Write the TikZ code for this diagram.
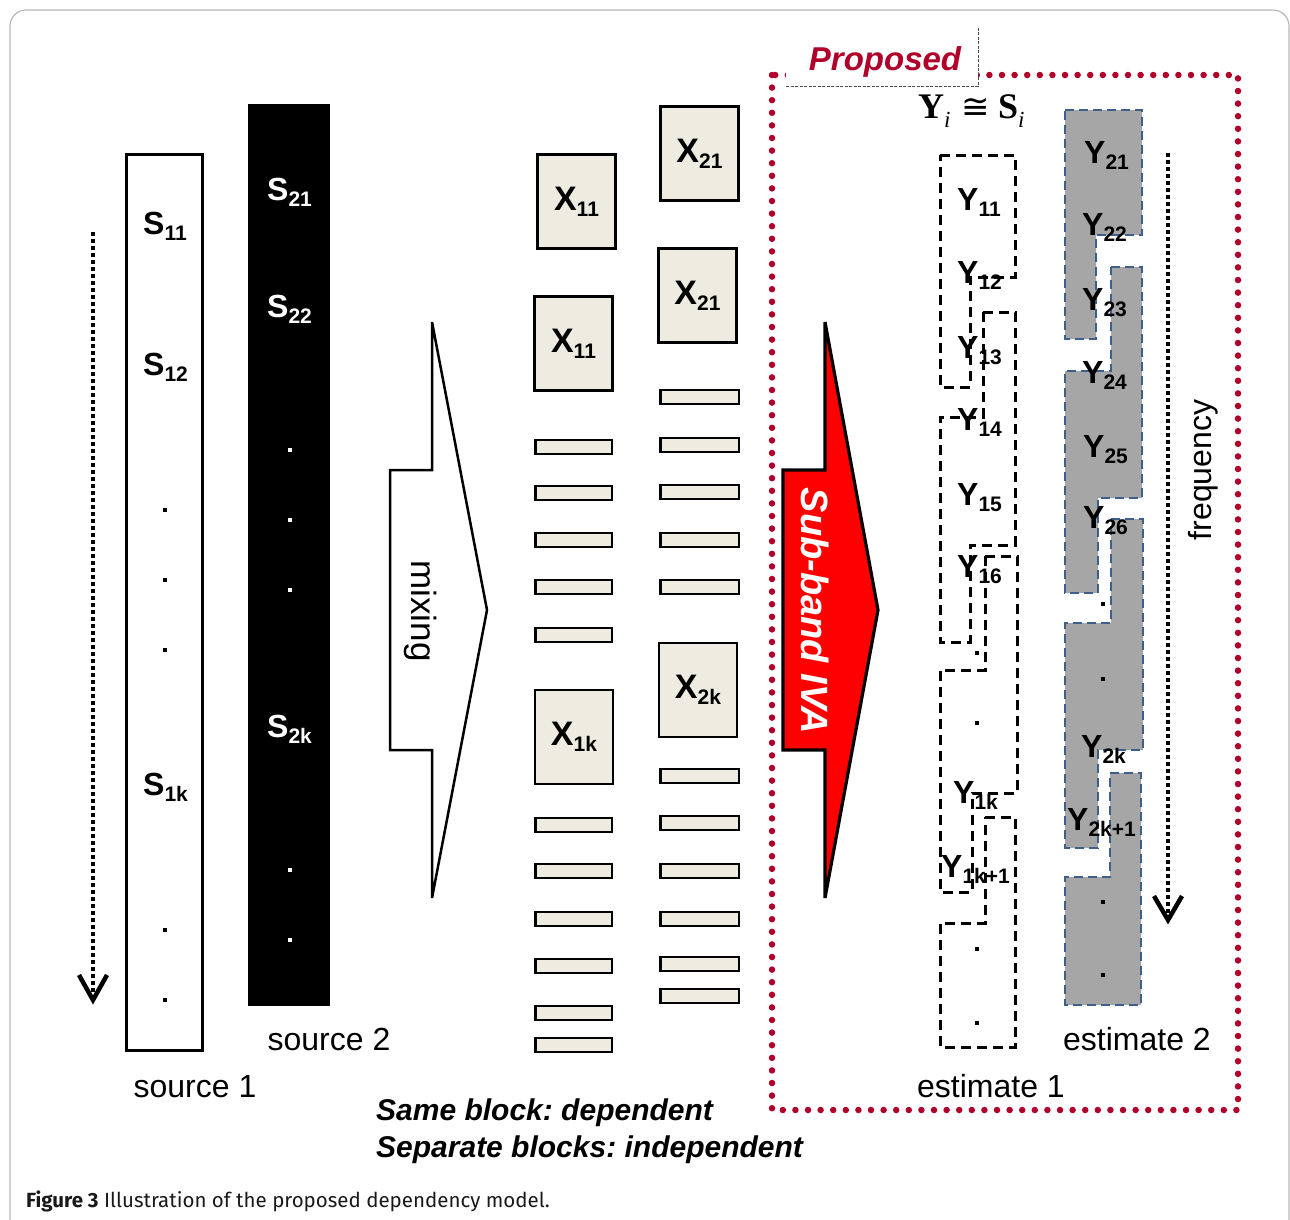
\RequirePackage{fix-cm}
\documentclass[tikz,border=0pt]{standalone}
\usepackage{amsmath}
\usepackage[no-math]{fontspec}
\setmainfont{Liberation Sans}
\newfontfamily\capfont{Fira Sans}
\newfontfamily\tmsfont{Liberation Serif}
\newfontfamily\relfont{DejaVu Sans}
\usetikzlibrary{arrows.meta,calc,positioning}
\definecolor{ivared}{RGB}{255,0,0}
\definecolor{propred}{RGB}{176,0,42}
\definecolor{xfill}{RGB}{238,236,225}
\definecolor{estblue}{RGB}{62,95,138}
\definecolor{estgray}{RGB}{166,166,166}
\newcommand{\blab}[2]{\textbf{#1}\raisebox{-6pt}{\fontsize{21}{21}\selectfont\textbf{#2}}}
\newcommand{\tlab}[1]{{\tmsfont\bfseries #1}\raisebox{-9pt}{\tmsfont\itshape\fontsize{23}{23}\selectfont i}}
\frenchspacing

\begin{document}
\begin{tikzpicture}[>=stealth, x=1pt, y=-1pt,
  lbl/.style={inner sep=0pt, font=\fontsize{32}{32}\selectfont},
  xbox/.style={draw, line width=2.5pt, fill=xfill, inner sep=0pt, minimum width=78pt, minimum height=94pt,
    font=\fontsize{34}{34}\selectfont},
  xbar/.style={draw, line width=2.5pt, fill=xfill},
  dotline/.style={line width=4.5pt, dash pattern=on 4pt off 3pt},
  vhead/.style={line width=4.5pt},
  est1/.style={draw, line width=3pt, dash pattern=on 10pt off 6pt},
  est2/.style={draw=estblue, fill=estgray, line width=2.8pt, dash pattern=on 9pt off 5pt},
  blockarrow/.style={draw, line width=2.5pt, line join=miter}]
  \useasboundingbox (0,0) rectangle (1290,1219);
  \draw[gray!55, line width=1.2pt, rounded corners=16pt] (10,10) rectangle (1289,1240);

  % sources
  \draw[dotline] (93,232) -- (93,994);
  \draw[vhead] (79,975) -- (93,1000) -- (107,975);
  \draw[line width=3pt] (126.5,154.5) rectangle (202.5,1050.5);
  \fill (248,104) rectangle (330,1006);
  \node[lbl, anchor=base west] (s11) at (143,234) {\blab{S}{11}};
  \node[lbl, anchor=base west] (s12) at (143,375) {\blab{S}{12}};
  \node[lbl, anchor=base west] (s1k) at (143,795) {\blab{S}{1k}};
  \foreach \y in {510,580,650,930,1000} \fill (163,\y-2) rectangle ++(4,4);
  \node[lbl, anchor=base west, text=white] (s21) at (267,200) {\blab{S}{21}};
  \node[lbl, anchor=base west, text=white] (s22) at (267,317) {\blab{S}{22}};
  \node[lbl, anchor=base west, text=white] (s2k) at (267,737) {\blab{S}{2k}};
  \foreach \y in {450,520,590,870,940} \fill[white] (288,\y-2) rectangle ++(4,4);
  \node[lbl, anchor=base] (src1) at (195,1097) {source 1};
  \node[lbl, anchor=base] (src2) at (329,1050) {source 2};

  % mixing
  \draw[blockarrow, fill=white] (390,470) -- (432,470) -- (432,322) -- (487,610) -- (432,898) -- (432,750) -- (390,750) -- cycle;
  \node[lbl, rotate=-90, font=\fontsize{35}{35}\selectfont] (mix) at (421,611) {mixing};

  % observations
  \node[xbox] (x11a) at (576.5,201.5) {\blab{X}{11}};
  \node[xbox] (x11b) at (573.5,343.5) {\blab{X}{11}};
  \node[xbox] (x1k) at (574,737) {\blab{X}{1k}};
  \node[xbox] (x21a) at (699.5,153.5) {\blab{X}{21}};
  \node[xbox] (x21b) at (697.5,295.5) {\blab{X}{21}};
  \node[xbox] (x2k) at (698,690) {\blab{X}{2k}};
  \foreach \y in {447,493,540,587,635,825,871,919,966,1013,1045}
    \draw[xbar] (535.5,\y-7) rectangle (612,\y+7);
  \foreach \y in {397,445,492,540,587,776,823,871,919,964,996}
    \draw[xbar] (660.5,\y-7) rectangle (739,\y+7);

  % proposed part
  \draw[propred, line width=6.5pt, line cap=round, dash pattern=on 0pt off 12.6pt] (772,75) rectangle (1238,1110);
  \fill[white] (786,20) rectangle (978,86);
  \draw[gray!60!black, line width=0.8pt, dash pattern=on 3pt off 1.5pt] (786,86) -- (978,86) -- (978,27);
  \node[anchor=base, inner sep=0pt, text=propred, font=\fontsize{33}{33}\selectfont\bfseries\itshape] (prop) at (885,70) {Proposed};
  \draw[blockarrow, line width=3.2pt, fill=ivared] (783,470) -- (825,470) -- (825,322) -- (878,610) -- (825,898) -- (825,750) -- (783,750) -- cycle;
  \node[rotate=-90, inner sep=0pt, text=white, font=\fontsize{38}{38}\selectfont\bfseries\itshape] (iva) at (815,611) {Sub-band IVA};
  \node[anchor=base west, inner sep=0pt, font=\fontsize{36}{36}\selectfont] (yis) at (918,118)
    {\tlab{Y}\hspace{11pt}{\relfont\fontsize{34}{34}\selectfont ≅}\hspace{8pt}\tlab{S}};

  % estimate 1
  \draw[est1] (940,155) -- (1015,155) -- (1015,277) -- (970,277) -- (970,387) -- (940,387) -- cycle;
  \draw[est1] (983,312) -- (1015,312) -- (1015,545) -- (970,545) -- (970,642) -- (940,642) -- (940,417) -- (983,417) -- cycle;
  \draw[est1] (985,556) -- (1017,556) -- (1017,793) -- (972,793) -- (972,892) -- (940,892) -- (940,670) -- (985,670) -- cycle;
  \draw[est1] (985,817) -- (1015,817) -- (1015,1047) -- (940,1047) -- (940,923) -- (985,923) -- cycle;
  \node[lbl, anchor=base west] (y11) at (957,210) {\blab{Y}{11}};
  \node[lbl, anchor=base west] (y12) at (957,283) {\blab{Y}{12}};
  \node[lbl, anchor=base west] (y13) at (957,358) {\blab{Y}{13}};
  \node[lbl, anchor=base west] (y14) at (957,430) {\blab{Y}{14}};
  \node[lbl, anchor=base west] (y15) at (957,505) {\blab{Y}{15}};
  \node[lbl, anchor=base west] (y16) at (957,577) {\blab{Y}{16}};
  \node[lbl, anchor=base west] (y1k) at (953,803) {\blab{Y}{1k}};
  \node[lbl, anchor=base west] (y1k1) at (941,877) {\blab{Y}{1k+1}};
  \foreach \y in {653,723,949,1023} \fill (975,\y-2) rectangle ++(4,4);
  \node[lbl, anchor=base] (est1) at (991,1097) {estimate 1};

  % estimate 2
  \draw[est2] (1065,110) -- (1142,110) -- (1142,235) -- (1096,235) -- (1096,339) -- (1065,339) -- cycle;
  \draw[est2] (1111,267) -- (1142,267) -- (1142,498) -- (1098,498) -- (1098,593) -- (1065,593) -- (1065,371) -- (1111,371) -- cycle;
  \draw[est2] (1111,519) -- (1143,519) -- (1143,750) -- (1098,750) -- (1098,848) -- (1065,848) -- (1065,623) -- (1111,623) -- cycle;
  \draw[est2] (1110,773) -- (1141,773) -- (1141,1005) -- (1065,1005) -- (1065,877) -- (1110,877) -- cycle;
  \node[lbl, anchor=base west] (y21) at (1084,163) {\blab{Y}{21}};
  \node[lbl, anchor=base west] (y22) at (1082,235) {\blab{Y}{22}};
  \node[lbl, anchor=base west] (y23) at (1082,310) {\blab{Y}{23}};
  \node[lbl, anchor=base west] (y24) at (1082,383) {\blab{Y}{24}};
  \node[lbl, anchor=base west] (y25) at (1083,457) {\blab{Y}{25}};
  \node[lbl, anchor=base west] (y26) at (1083,528) {\blab{Y}{26}};
  \node[lbl, anchor=base west] (y2k) at (1081,757) {\blab{Y}{2k}};
  \node[lbl, anchor=base west] (y2k1) at (1067,830) {\blab{Y}{2k+1}};
  \foreach \y in {604,679,902,975} \fill (1101,\y-2) rectangle ++(4,4);
  \node[lbl, anchor=base] (est2) at (1137,1050) {estimate 2};

  % frequency axis
  \draw[dotline] (1168,153) -- (1168,915);
  \draw[vhead] (1154,896) -- (1168,920) -- (1182,896);
  \node[lbl, rotate=90] (freq) at (1203,470) {frequency};

  % notes and caption
  \node[lbl, anchor=base west, font=\fontsize{30}{30}\selectfont\bfseries\itshape] (same) at (376,1120) {Same block: dependent};
  \node[lbl, anchor=base west, font=\fontsize{30}{30}\selectfont\bfseries\itshape] (sep) at (376,1157) {Separate blocks: independent};
  \node[anchor=base west, inner sep=0pt, text=black!90, font=\capfont\fontsize{20.5}{20.5}\selectfont] (cap) at (26,1207) {\textbf{Figure 3} Illustration of the proposed dependency model.};
\end{tikzpicture}
\end{document}
